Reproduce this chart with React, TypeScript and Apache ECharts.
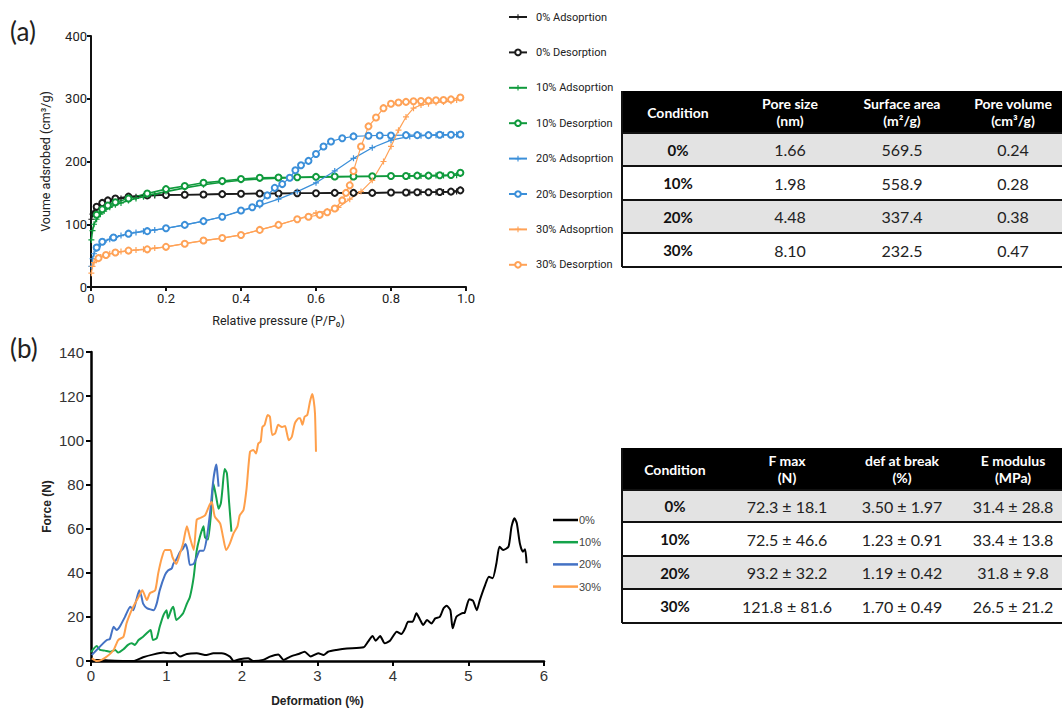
import React, { useEffect, useRef } from "react";
import * as echarts from "echarts";

// ---------- (a) N2 isotherms ----------
const ADS_P = [0.001,0.004,0.008,0.015,0.025,0.035,0.05,0.065,0.08,0.1,0.12,0.14,0.17,0.2,0.25,0.3,0.35,0.4,0.45,0.5,0.55,0.6,0.65,0.7,0.75,0.8,0.85,0.88,0.9,0.92,0.94,0.96,0.975,0.985];
const DES_P = [0.985,0.96,0.93,0.9,0.87,0.84,0.8,0.75,0.7,0.65,0.6,0.55,0.5,0.45,0.4,0.35,0.3,0.25,0.2,0.15,0.1,0.065,0.045,0.03,0.015];
const ADS0_V = [108,116,121,126,131,134,137,139,141,143,144,145,146,146.5,147,147.5,148,148.5,149,149,149.5,149.5,150,150,150,150.5,150.5,151,151,151,151.5,151.5,152,155];
const DES0_V = [154,152,151.5,151,151,150.5,150.5,150,150,150,149.5,149.5,149,149,148.5,148,147.5,147,146.5,146,144,141,138,134,128];
const ADS10_V = [75,90,100,108,116,121,127,131,134,138,141,144,148,152,158,163,167,170,172,173.5,174.5,175,175.5,176,176,176.5,177,177,177,177.5,177.5,178,178,180];
const DES10_V = [182,178.5,178,177.5,177.5,177,177,176.5,176,176,175.5,175,174.5,174,172,169,166,161,156,149,141,135,130,124,115];
const ADS20_V = [33,45,53,61,68,72,76,79,82,85,87,89,91,93.5,99,105,112,121,130,140,152,166,185,205,222,234,240,241,242,242,242.5,242.5,243,243];
const DES20_P = [0.985,0.96,0.93,0.9,0.87,0.84,0.8,0.77,0.74,0.7,0.67,0.64,0.62,0.6,0.58,0.56,0.545,0.53,0.51,0.49,0.47,0.45,0.43,0.4,0.35,0.3,0.25,0.2,0.15,0.1,0.06,0.03,0.015];
const DES20_V = [243,242.5,242.5,242,242,242,241.5,241.5,241,240,237,232,224,212,201,194,186,174,164,158,146,133,127,122,112,105,99,93.5,89,85,79,72,63];
const ADS30_P = [0.001,0.004,0.008,0.015,0.025,0.035,0.05,0.065,0.08,0.1,0.12,0.14,0.17,0.2,0.25,0.3,0.35,0.4,0.45,0.5,0.55,0.6,0.63,0.66,0.69,0.72,0.75,0.78,0.8,0.82,0.84,0.86,0.88,0.9,0.92,0.94,0.96,0.975,0.985];
const ADS30_V = [22,33,39,44,48,51,53,55,56.5,58,59,60,62,64,69,74,78,83,91,99,108,118,121,127,140,152,170,200,224,250,271,285,290,292,294,295,296,298,302];
const DES30_P = [0.985,0.96,0.94,0.92,0.9,0.88,0.86,0.84,0.82,0.8,0.78,0.76,0.74,0.72,0.7,0.69,0.68,0.67,0.65,0.63,0.61,0.58,0.55,0.5,0.45,0.4,0.35,0.3,0.25,0.2,0.15,0.1,0.065,0.04,0.02];
const DES30_V = [302,299,298,297.5,297,296.5,296,295,294,292,285,270,256,224,185,162,150,138,125,119,115,112,108,99,91,83,78,74,69,64,60,58,55,51,46];

// ---------- (b) force vs deformation ----------
const B0_X = [0,0.12,0.25,0.47,0.56,0.69,0.83,0.96,1.05,1.11,1.18,1.27,1.4,1.53,1.62,1.73,1.84,1.89,1.97,2.08,2.15,2.28,2.37,2.48,2.55,2.64,2.75,2.83,2.91,3.01,3.08,3.14,3.25,3.39,3.61,3.67,3.73,3.77,3.83,3.89,3.96,4.05,4.11,4.16,4.2,4.26,4.31,4.36,4.4,4.45,4.51,4.56,4.62,4.67,4.71,4.76,4.79,4.84,4.91,4.95,5.01,5.06,5.11,5.15,5.22,5.27,5.32,5.37,5.41,5.46,5.53,5.57,5.61,5.64,5.68,5.72,5.75,5.77];
const B0_Y = [0.5,0.5,0.2,0,0,1.7,3,3.8,3.5,3.8,2,3.2,3.5,2.7,3.5,3.5,2,0,0.8,1.2,0,0.5,2,3,0.5,2,3.2,4.2,2,3.5,2.7,4.2,5,5.7,6.2,8.8,11.3,9.2,11.3,8,9.2,13.3,12.2,14.8,17.8,17.8,21.6,18.6,16.3,18.6,17,19.3,20,23.9,25,23,14.8,20,21.6,21.9,28,27.3,23,27.6,34.4,38.2,37.5,44.3,51.8,50.3,51.8,60.9,64.7,62.4,53.3,49.5,50.6,44.3];
const B10_X = [0,0.075,0.12,0.185,0.25,0.32,0.36,0.43,0.49,0.54,0.58,0.63,0.69,0.76,0.79,0.82,0.87,0.91,0.96,1.0,1.02,1.06,1.09,1.13,1.18,1.22,1.27,1.31,1.36,1.4,1.44,1.49,1.51,1.55,1.6,1.62,1.66,1.69,1.72,1.74,1.77,1.8,1.83,1.86];
const B10_Y = [4,6.8,5,4.7,4.2,5,3.8,5.3,7.3,8,7.3,9.5,11,13.3,14,9.5,10.3,15.5,20.8,23,19.3,23,24.6,18.6,20,21.6,26,29,38,50,56,61,56,55,71.5,80.5,74,69,71.5,77.5,87,85,71.5,58.6];
const B20_X = [0.01,0.075,0.16,0.21,0.25,0.3,0.34,0.38,0.45,0.52,0.56,0.6,0.64,0.67,0.69,0.74,0.83,0.87,0.91,0.98,1.02,1.07,1.09,1.13,1.18,1.22,1.25,1.28,1.31,1.36,1.4,1.44,1.49,1.53,1.58,1.62,1.66,1.67,1.69];
const B20_Y = [2.7,5,8,9.5,10,15.5,14,15.5,20,24.6,23,27.6,32,29,26,24,23,26,32,39,41,42,44,46,49.5,51,53,50,43.5,44,47,50,50,55,68,82,89,86.5,79];
const B30_X = [0.01,0.075,0.14,0.21,0.3,0.36,0.43,0.47,0.52,0.56,0.63,0.68,0.74,0.78,0.85,0.89,0.94,0.98,1.05,1.08,1.13,1.18,1.22,1.27,1.31,1.36,1.4,1.44,1.51,1.57,1.6,1.64,1.71,1.75,1.79,1.84,1.89,1.94,1.97,2.02,2.06,2.106,2.15,2.185,2.216,2.247,2.27,2.3,2.34,2.37,2.4,2.44,2.48,2.53,2.57,2.59,2.62,2.66,2.7,2.75,2.77,2.8,2.83,2.865,2.9,2.93,2.95,2.967,2.98];
const B30_Y = [1.2,0,0.5,2,5,9.5,11,17,21.6,24.6,29,32,27.6,30.7,32,39.7,47,50.3,50.3,47,44,48.8,53.3,61,56,50.3,64,64.7,66,70.7,72,65.4,62.4,56,50.3,53.3,58,61,66,68.4,78,94.8,95.6,94,98.6,99.4,106,107,111.5,110.7,102.4,103.2,107,106,106.5,104,100,101.6,107.7,110,110,107,110.7,111.5,117.5,121,118,112,94.8];

// ---------- tables ----------
const TA_HEAD = ["Condition", "Pore size\n(nm)", "Surface area\n(m²/g)", "Pore volume\n(cm³/g)"];
const CONDITIONS = ["0%", "10%", "20%", "30%"];
const PORE_SIZE = ["1.66", "1.98", "4.48", "8.10"];
const SURFACE_AREA = ["569.5", "558.9", "337.4", "232.5"];
const PORE_VOLUME = ["0.24", "0.28", "0.38", "0.47"];
const TB_HEAD = ["Condition", "F max\n(N)", "def at break\n(%)", "E modulus\n(MPa)"];
const F_MAX = ["72.3 ± 18.1", "72.5 ± 46.6", "93.2 ± 32.2", "121.8 ± 81.6"];
const DEF_BREAK = ["3.50 ± 1.97", "1.23 ± 0.91", "1.19 ± 0.42", "1.70 ± 0.49"];
const E_MOD = ["31.4 ± 28.8", "33.4 ± 13.8", "31.8 ± 9.8", "26.5 ± 21.2"];

const NARROW = "Roboto, 'Liberation Sans', sans-serif";
const ARIAL = "'Liberation Sans', Arial, sans-serif";
const TFONT = "Lato, 'Open Sans', sans-serif";

const zip = (xs: number[], ys: number[]) => xs.map((x, i) => [x, ys[i]]);
const PLUS = "path://M4 0h2v4h4v2H6v4H4V6H0V4h4z";

function buildTable(left: number, right: number, b: number[], centers: number[], head: string[], cols: string[][]) {
  const els: any[] = [];
  els.push({ type: "rect", shape: { x: left, y: b[0], width: right - left, height: b[1] - b[0] }, style: { fill: "#000" } });
  for (let i = 0; i < 4; i++) {
    els.push({ type: "rect", shape: { x: left, y: b[i + 1], width: right - left, height: b[i + 2] - b[i + 1] }, style: { fill: i % 2 === 0 ? "#e3e3e3" : "#ffffff" } });
  }
  for (let i = 1; i < b.length; i++) {
    els.push({ type: "line", shape: { x1: left, y1: b[i], x2: right, y2: b[i] }, style: { stroke: "#111", lineWidth: 2 } });
  }
  els.push({ type: "line", shape: { x1: left, y1: b[0], x2: left, y2: b[b.length - 1] }, style: { stroke: "#111", lineWidth: 2 } });
  head.forEach((h, j) => {
    els.push({ type: "text", style: { x: centers[j], y: (b[0] + b[1]) / 2, text: h, fill: "#fff", fontSize: 14, fontWeight: "bold", fontFamily: TFONT, align: "center", verticalAlign: "middle", lineHeight: 17 } });
  });
  for (let i = 0; i < 4; i++) {
    const y = (b[i + 1] + b[i + 2]) / 2;
    els.push({ type: "text", style: { x: centers[0], y, text: CONDITIONS[i], fill: "#111", fontSize: 15, fontWeight: "bold", fontFamily: TFONT, align: "center", verticalAlign: "middle" } });
    cols.forEach((c, j) => {
      els.push({ type: "text", style: { x: centers[j + 1], y, text: c[i], fill: "#222", fontSize: 16, fontFamily: TFONT, align: "center", verticalAlign: "middle" } });
    });
  }
  return els;
}

export default function App() {
  const ref = useRef<HTMLDivElement>(null);
  useEffect(() => {
    const chart = echarts.init(ref.current!, null, { renderer: "svg" });
    const C = { k: "#1b1b1b", g: "#0f9a3c", b: "#3b8fd9", o: "#ffa257" };
    const CB = { k: "#000000", g: "#14a34a", b: "#4472c4", o: "#ff9f4a" };
    const isoAds = (name: string, xs: number[], ys: number[], color: string, w: number) => ({
      name, type: "line", xAxisIndex: 0, yAxisIndex: 0, data: zip(xs, ys), symbol: PLUS, symbolSize: 6,
      itemStyle: { color }, lineStyle: { color, width: w }, showSymbol: true,
    });
    const isoDes = (name: string, xs: number[], ys: number[], color: string, w: number) => ({
      name, type: "line", xAxisIndex: 0, yAxisIndex: 0, data: zip(xs, ys), symbol: "emptyCircle", symbolSize: 6,
      itemStyle: { color, borderWidth: 1.4 }, lineStyle: { color, width: w }, showSymbol: true,
    });
    const bLine = (name: string, xs: number[], ys: number[], color: string) => ({
      name, type: "line", xAxisIndex: 1, yAxisIndex: 1, data: zip(xs, ys), symbol: "none",
      lineStyle: { color, width: 2 }, itemStyle: { color }, smooth: 0.2,
    });
    const legA = ["0% Adsoprtion", "0% Desorption", "10% Adsoprtion", "10% Desorption", "20% Adsoprtion", "20% Desorption", "30% Adsoprtion", "30% Desorption"];
    chart.setOption({
      animation: false,
      backgroundColor: "#fff",
      grid: [
        { left: 91, top: 36, width: 375, height: 251 },
        { left: 91, top: 352, width: 453, height: 309 },
      ],
      xAxis: [
        {
          type: "value", gridIndex: 0, min: 0, max: 1, interval: 0.2,
          axisLine: { lineStyle: { color: "#111", width: 2 } },
          axisTick: { show: true, length: 4, lineStyle: { width: 2, color: "#111" } },
          splitLine: { show: false },
          axisLabel: { fontSize: 13, color: "#222", fontFamily: NARROW, margin: 5, formatter: (v: number) => (v === 0 ? "0" : v.toFixed(1)) },
          name: "Relative pressure (P/P₀)", nameLocation: "middle", nameGap: 27,
          nameTextStyle: { fontSize: 12.5, color: "#222", fontFamily: NARROW },
        },
        {
          type: "value", gridIndex: 1, min: 0, max: 6, interval: 1,
          axisLine: { lineStyle: { color: "#000", width: 2.5 } },
          axisTick: { show: true, length: 5, lineStyle: { width: 2, color: "#000" } },
          splitLine: { show: false },
          axisLabel: { fontSize: 15, color: "#333", fontFamily: ARIAL, margin: 7 },
          name: "Deformation (%)", nameLocation: "middle", nameGap: 34,
          nameTextStyle: { fontSize: 12, fontWeight: "bold", color: "#222", fontFamily: ARIAL },
        },
      ],
      yAxis: [
        {
          type: "value", gridIndex: 0, min: 0, max: 400, interval: 100,
          axisLine: { show: true, lineStyle: { color: "#111", width: 2 } },
          axisTick: { show: true, length: 4, lineStyle: { width: 2, color: "#111" } },
          splitLine: { show: false },
          axisLabel: { fontSize: 13, color: "#222", fontFamily: NARROW, margin: 4 },
          name: "Voume adsrobed (cm³/g)", nameLocation: "middle", nameGap: 39, nameRotate: 90,
          nameTextStyle: { fontSize: 12.5, color: "#222", fontFamily: NARROW },
        },
        {
          type: "value", gridIndex: 1, min: 0, max: 140, interval: 20,
          axisLine: { show: true, lineStyle: { color: "#000", width: 2.5 } },
          axisTick: { show: true, length: 5, lineStyle: { width: 2, color: "#000" } },
          splitLine: { show: false },
          axisLabel: { fontSize: 15, color: "#333", fontFamily: ARIAL, margin: 7 },
          name: "Force (N)", nameLocation: "middle", nameGap: 38, nameRotate: 90,
          nameTextStyle: { fontSize: 12, fontWeight: "bold", color: "#222", fontFamily: ARIAL },
        },
      ],
      legend: [
        {
          orient: "vertical", left: 503, top: 5, itemWidth: 18, itemHeight: 7, itemGap: 21.4,
          selectedMode: false,
          textStyle: { fontSize: 11, color: "#222", fontFamily: NARROW, lineHeight: 14, padding: [0, 0, 0, 4] },
          data: legA,
        },
        {
          orient: "vertical", left: 548, top: 509, itemWidth: 25, itemHeight: 2.5, itemGap: 10.2,
          selectedMode: false,
          textStyle: { fontSize: 11, color: "#444", fontFamily: ARIAL, lineHeight: 12, padding: [0, 0, 0, -4] },
          data: ["0%", "10%", "20%", "30%"].map((n) => ({ name: n, icon: "rect" })),
        },
      ],
      series: [
        isoAds(legA[0], ADS_P, ADS0_V, C.k, 1.6),
        isoDes(legA[1], DES_P, DES0_V, C.k, 1.6),
        isoAds(legA[2], ADS_P, ADS10_V, C.g, 1.6),
        isoDes(legA[3], DES_P, DES10_V, C.g, 1.6),
        isoAds(legA[4], ADS_P, ADS20_V, C.b, 1.2),
        isoDes(legA[5], DES20_P, DES20_V, C.b, 1.2),
        isoAds(legA[6], ADS30_P, ADS30_V, C.o, 1.2),
        isoDes(legA[7], DES30_P, DES30_V, C.o, 1.2),
        bLine("0%", B0_X, B0_Y, CB.k),
        bLine("10%", B10_X, B10_Y, CB.g),
        bLine("20%", B20_X, B20_Y, CB.b),
        bLine("30%", B30_X, B30_Y, CB.o),
      ],
      graphic: [
        { type: "text", style: { x: 10, y: 31, text: "(a)", fontSize: 26, fill: "#222", fontFamily: TFONT, verticalAlign: "middle" } },
        { type: "text", style: { x: 10, y: 348, text: "(b)", fontSize: 26, fill: "#222", fontFamily: TFONT, verticalAlign: "middle" } },
        ...buildTable(622, 1066, [91, 133, 166, 200, 233, 267], [678, 790, 902, 1013], TA_HEAD, [PORE_SIZE, SURFACE_AREA, PORE_VOLUME]),
        ...buildTable(622, 1066, [448, 490, 522, 556, 589, 623], [675, 787, 902, 1013], TB_HEAD, [F_MAX, DEF_BREAK, E_MOD]),
      ],
    });
    return () => chart.dispose();
  }, []);
  return <div ref={ref} style={{ position: "absolute", left: 0, top: 0, width: 1062, height: 711 }} />;
}
